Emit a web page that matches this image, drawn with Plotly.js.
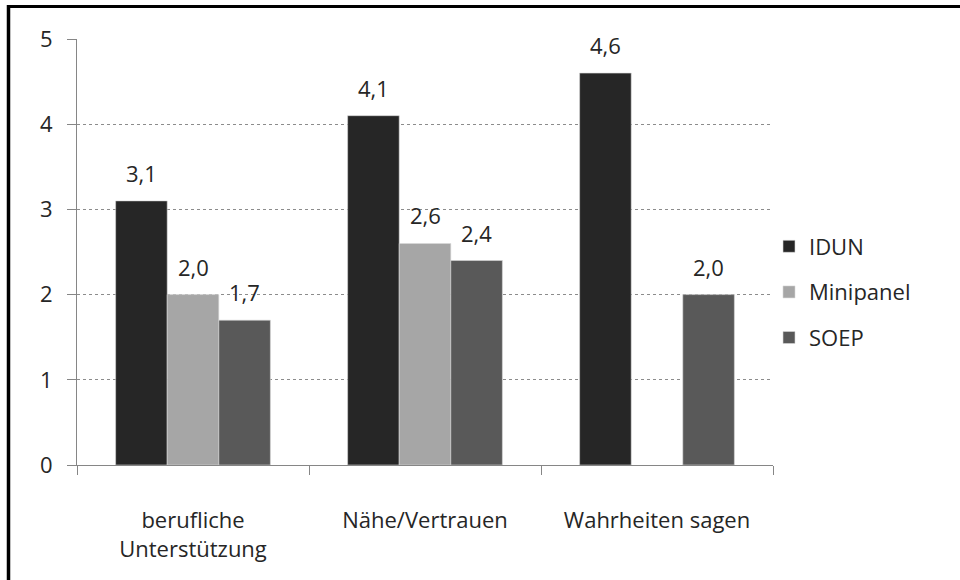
<!DOCTYPE html>
<html>
<head>
<meta charset="utf-8">
<script src="https://cdn.plot.ly/plotly-3.0.1.min.js"></script>
<style>html,body{margin:0;padding:0;background:#fff}#chart{width:960px;height:580px}</style>
</head>
<body>
<div id="chart"></div>
<script>
const categories = ["berufliche<br>Unterstützung", "Nähe/Vertrauen", "Wahrheiten sagen"];
const seriesNames = ["IDUN", "Minipanel", "SOEP"];
const idun = [3.1, 4.1, 4.6];
const minipanel = [2.0, 2.6, null];
const soep = [1.7, 2.4, 2.0];
const colors = ["#262626", "#a6a6a6", "#595959"];
const yTicks = [0, 1, 2, 3, 4, 5];

const values = [idun, minipanel, soep];
const FONT = "Open Sans, sans-serif";
const FS = 22;
const L = 77, R = 187, T = 39, B = 115, W = 960, H = 580;
const plotW = W - L - R;
const bargap = 0.333;
const barPx = plotW / categories.length * (1 - bargap) / seriesNames.length;

const traces = seriesNames.map((name, i) => ({
  type: "bar",
  name: name,
  x: categories,
  y: values[i],
  legendgroup: name,
  marker: {color: colors[i], line: {color: "#d9d9d9", width: 0.6}},
  hoverinfo: "skip"
}));

const annotations = [];
values.forEach((vals, i) => {
  vals.forEach((v, j) => {
    if (v === null) return;
    annotations.push({
      x: categories[j], y: v, xref: "x", yref: "y",
      text: v.toFixed(1).replace(".", ","),
      showarrow: false, yanchor: "bottom",
      xshift: (i - 1) * barPx, yshift: 11,
      font: {family: FONT, size: FS, color: "#262626"}
    });
  });
});

const px2x = p => (p - L) / plotW;
const py2y = p => (H - B - p) / (H - T - B);

const layout = {
  width: W, height: H,
  margin: {l: L, r: R, t: T, b: B, pad: 0},
  paper_bgcolor: "#ffffff", plot_bgcolor: "#ffffff",
  barmode: "group", bargap: bargap, bargroupgap: 0,
  separators: ",.",
  font: {family: FONT, size: FS, color: "#262626"},
  showlegend: true,
  legend: {
    x: px2x(769), xanchor: "left", y: py2y(292), yanchor: "middle",
    traceorder: "grouped", tracegroupgap: 14,
    font: {family: FONT, size: FS, color: "#262626"},
    itemwidth: 30, bgcolor: "rgba(0,0,0,0)"
  },
  xaxis: {
    type: "category",
    showline: true, linecolor: "#868686", linewidth: 1,
    ticks: "outside", tickson: "boundaries", ticklen: 9, tickcolor: "#868686",
    showgrid: false, zeroline: false,
    tickfont: {family: FONT, size: FS, color: "#262626"},
    ticklabelstandoff: 36,
    fixedrange: true
  },
  yaxis: {
    range: [0, 5], tickvals: yTicks, ticktext: yTicks.map(String),
    showline: true, linecolor: "#868686", linewidth: 1,
    ticks: "outside", ticklen: 9, tickcolor: "#868686",
    showgrid: true, gridcolor: "#8c8c8c", gridwidth: 1, griddash: "dot",
    zeroline: false,
    tickfont: {family: FONT, size: FS, color: "#262626"},
    ticklabelstandoff: 10,
    fixedrange: true
  },
  annotations: annotations,
  shapes: [
    {type: "line", xref: "paper", yref: "paper", x0: px2x(7), x1: px2x(962), y0: py2y(6.5), y1: py2y(6.5), line: {color: "#000", width: 3}},
    {type: "line", xref: "paper", yref: "paper", x0: px2x(8.5), x1: px2x(8.5), y0: py2y(5), y1: py2y(585), line: {color: "#000", width: 3.5}}
  ]
};

Plotly.newPlot("chart", traces, layout, {displayModeBar: false, staticPlot: true});
</script>
</body>
</html>
